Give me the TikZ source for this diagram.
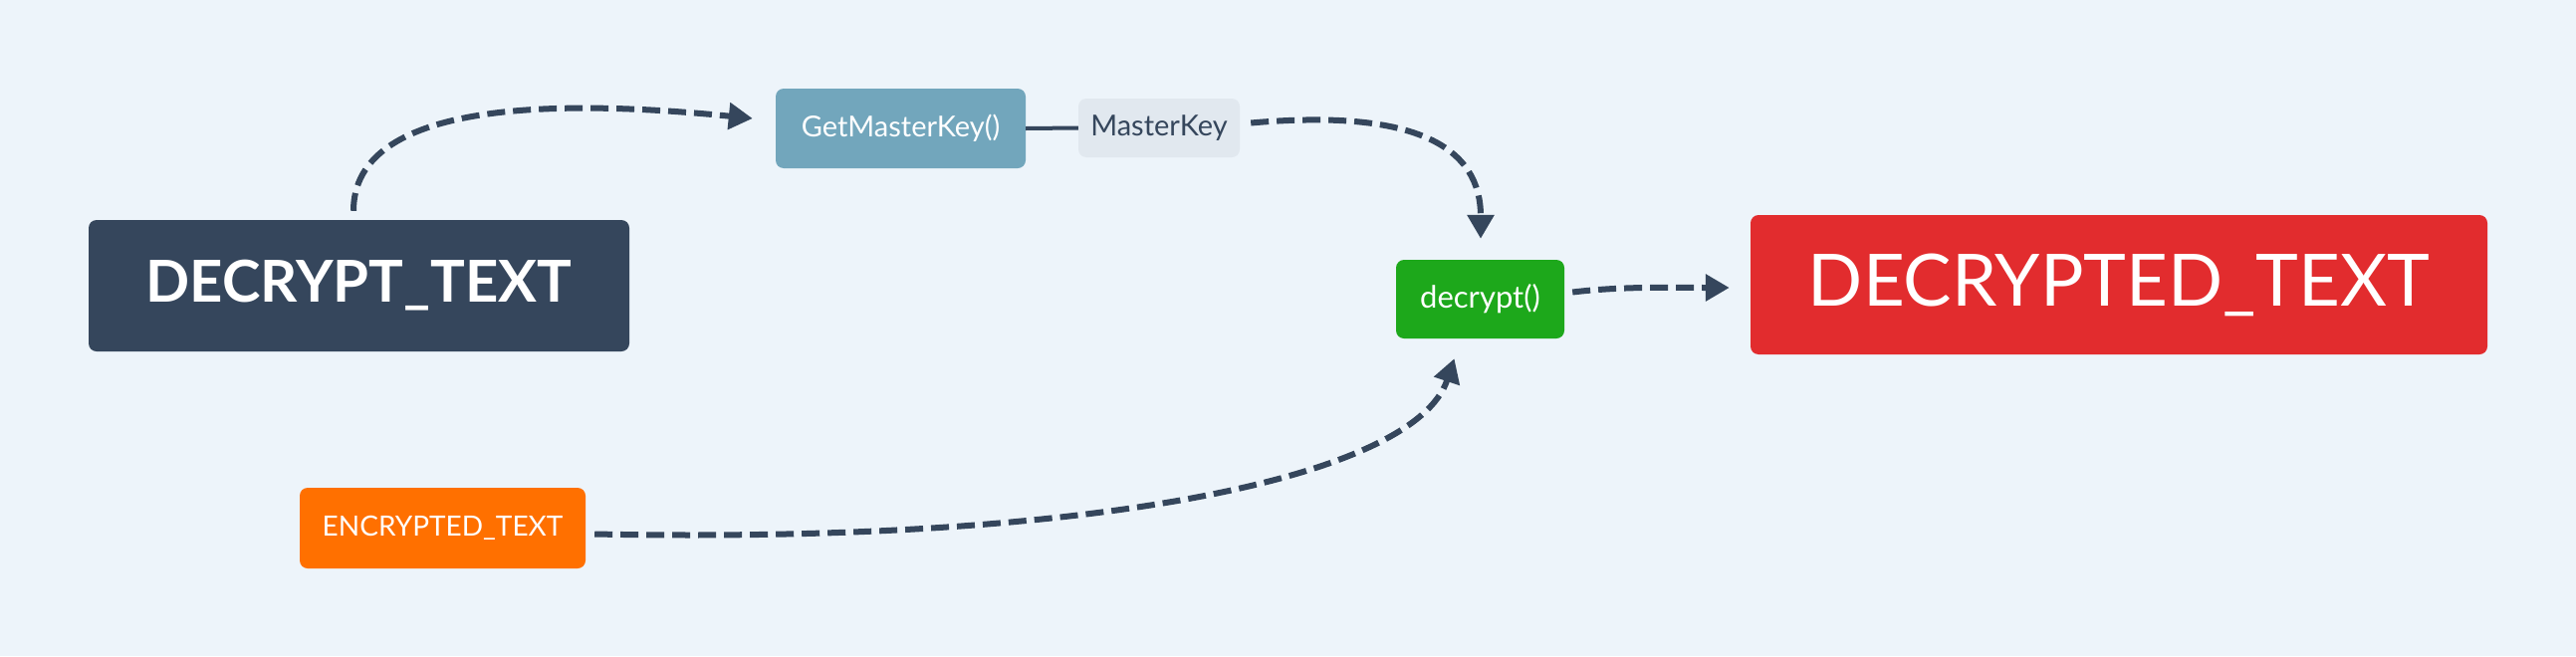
\documentclass[tikz,border=0pt]{standalone}
\usepackage{fontspec}
\setmainfont{Lato}
\usetikzlibrary{arrows.meta}
\definecolor{bg}{HTML}{EDF4FA}
\definecolor{navy}{HTML}{35465C}
\definecolor{steel}{HTML}{72A6BC}
\definecolor{pale}{HTML}{E1E8EF}
\definecolor{orng}{HTML}{FF7000}
\definecolor{grn}{HTML}{1DA81B}
\definecolor{rd}{HTML}{E22C2E}
\tikzset{
  box/.style={rectangle, rounded corners=8pt, inner sep=0pt, text=white, font=\fontsize{29}{33}\selectfont},
  link/.style={draw=navy, line width=6pt, dash pattern=on 18pt off 8pt},
  arr/.style={link, -{Triangle[length=24pt,width=26pt]}},
}
\begin{document}
\begin{tikzpicture}[x=1pt,y=-1pt]
\fill[bg] (0,0) rectangle (2587,659);
\useasboundingbox (0,0) rectangle (2587,659);
\node[box, fill=navy, minimum width=543pt, minimum height=132pt, font=\fontsize{58}{64}\selectfont\bfseries] (dt) at (360.5,287) {DECRYPT\_TEXT};
\node[box, fill=steel, minimum width=251pt, minimum height=80pt] (gmk) at (904.5,129) {GetMasterKey()};
\node[box, fill=pale, text=navy, minimum width=162pt, minimum height=59pt] (mk) at (1164,128.5) {MasterKey};
\node[box, fill=orng, minimum width=287pt, minimum height=81pt, font=\fontsize{28}{32}\selectfont] (enc) at (444.5,530.5) {ENCRYPTED\_TEXT};
\node[box, fill=grn, minimum width=169pt, minimum height=79pt, font=\fontsize{31}{35}\selectfont] (dec) at (1486.5,300.5) {decrypt()};
\node[box, fill=rd, minimum width=740pt, minimum height=140pt, font=\fontsize{72.5}{78}\selectfont] (out) at (2128,286) {DECRYPTED\_TEXT};
\draw[navy, line width=4pt] (gmk.east) -- (mk.west);
\draw[arr] ([xshift=-5.5pt,yshift=9pt]dt.north) .. controls +(0,-110) and +(-200,-20) .. ([xshift=-23pt,yshift=10pt]gmk.west);
\draw[arr] ([xshift=11pt,yshift=5pt]mk.east) .. controls +(170,-15) and +(0,-90) .. ([xshift=0.5pt,yshift=21pt]dec.north);
\draw[arr] ([xshift=8pt,yshift=7pt]dec.east) .. controls +(50,-6) and +(-60,0) .. ([xshift=-21pt,yshift=-3pt]out.west);
\draw[arr] ([xshift=9pt,yshift=-6pt]enc.east) .. controls +(500,10) and +(-40,120) .. ([xshift=-26pt,yshift=-20pt]dec.south);
\end{tikzpicture}
\end{document}
